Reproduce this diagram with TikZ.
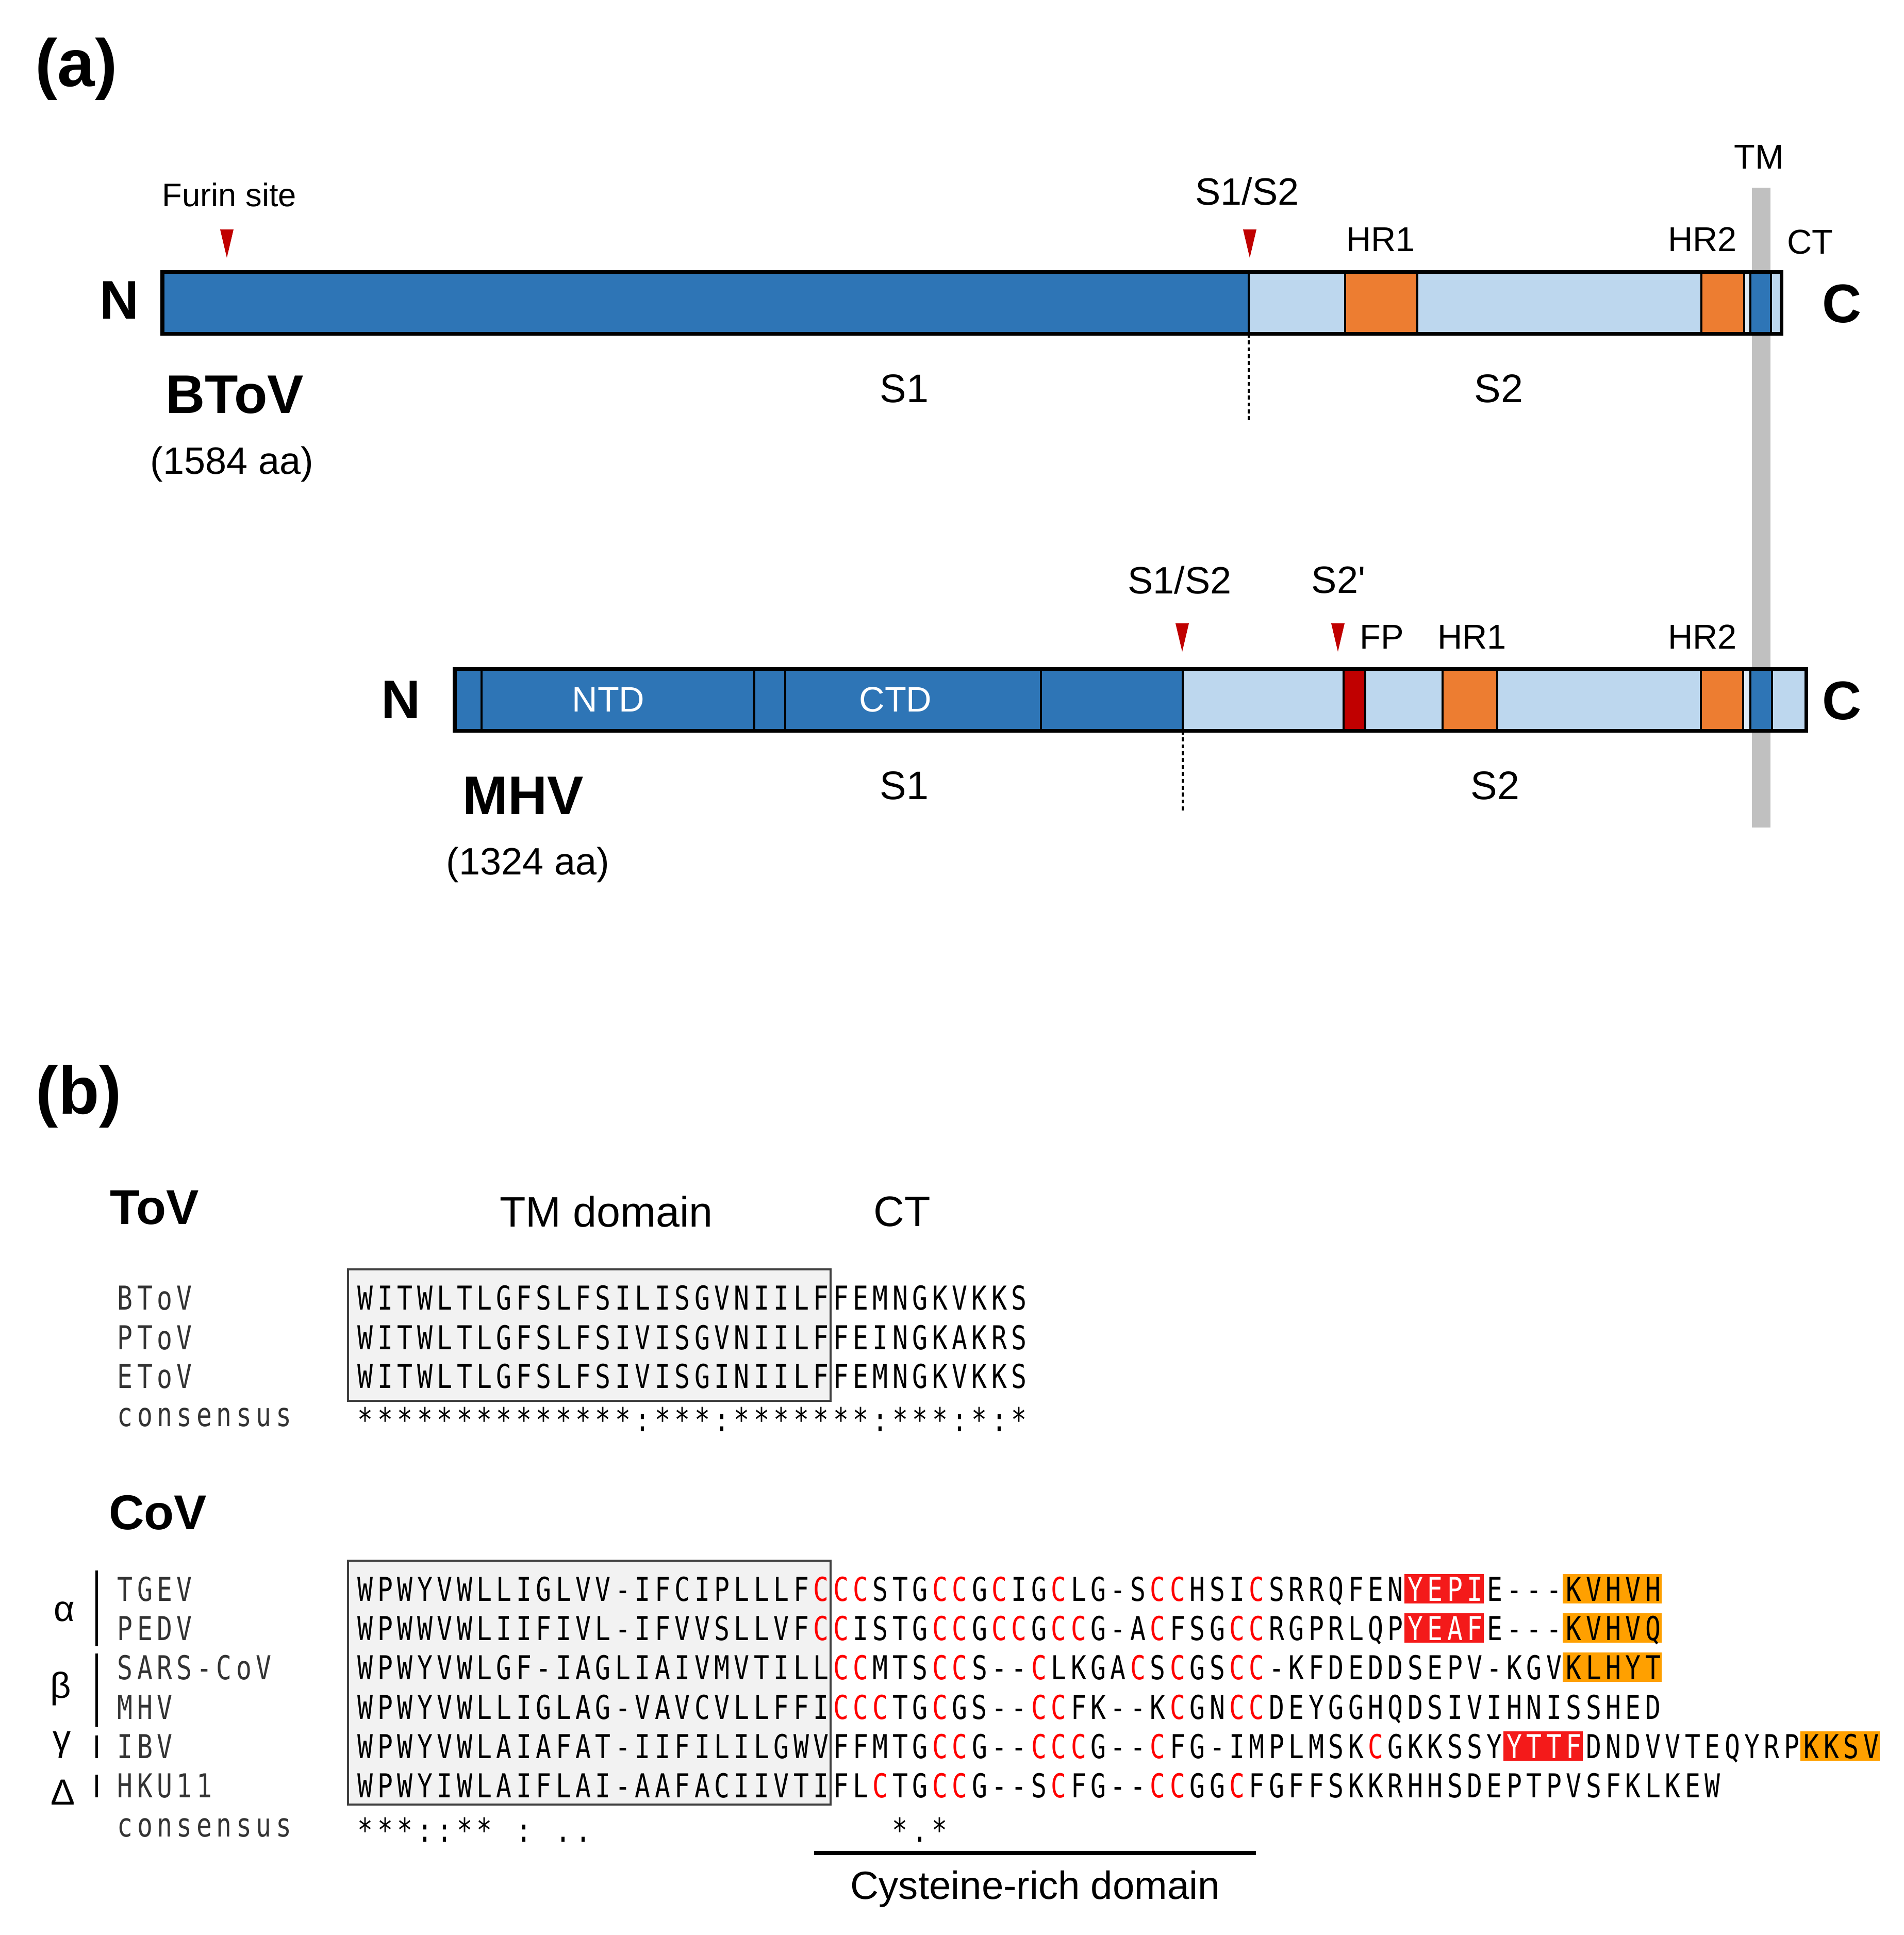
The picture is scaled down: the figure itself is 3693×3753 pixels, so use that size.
\documentclass[tikz,border=0pt]{standalone}
\usepackage{fontspec}
\setmainfont{Liberation Sans}
\newfontfamily\seqfont[Ligatures=TeXOff,FakeStretch=0.78]{DejaVu Sans Mono}
\newfontfamily\labfont[Ligatures=TeXOff,FakeStretch=0.78,LetterSpace=13.25]{DejaVu Sans Mono}
\definecolor{dblue}{HTML}{2E75B6}
\definecolor{lblue}{HTML}{BDD7EE}
\definecolor{orng}{HTML}{ED7D31}
\definecolor{fpred}{HTML}{C00000}
\definecolor{tmgray}{HTML}{C0C0C0}
\definecolor{seqred}{HTML}{FF0000}
\definecolor{hlred}{HTML}{F41A1A}
\definecolor{hlorg}{HTML}{FFA000}
\definecolor{boxfill}{HTML}{F2F2F2}
\definecolor{boxline}{HTML}{404040}
% fixed-pitch sequence typesetting: c = red C, other lowercase = white capital
\newlength\seqcw
\setlength\seqcw{0.384cm}
\makeatletter
\def\sq#1{\sq@a#1\relax}
\def\sq@a#1{\ifx\relax#1\else\sq@c{#1}\expandafter\sq@a\fi}
\def\sq@c#1{\makebox[\seqcw][c]{\sq@g{#1}}}
\def\sq@g#1{\if c#1\textcolor{seqred}{C}\else\ifnum`#1>96 \textcolor{white}{\uppercase{#1}}\else#1\fi\fi}
\makeatother
% highlight: colour, first col, last col, baseline
\newcommand{\hlcols}[4]{\fill[#1] ({689+(#2-1)*38.4},{#4-52}) rectangle ({689+#3*38.4},{#4+5});}
\begin{document}
\begin{tikzpicture}[x=0.01cm,y=-0.01cm,
  lab/.style={inner sep=0pt,font=\fontsize{19}{22}\selectfont},
  site/.style={inner sep=0pt,font=\fontsize{21}{24}\selectfont},
  dom/.style={inner sep=0pt,font=\fontsize{22}{26}\selectfont},
  term/.style={inner sep=0pt,font=\bfseries\fontsize{30}{34}\selectfont},
  vname/.style={inner sep=0pt,font=\bfseries\fontsize{30}{34}\selectfont},
  aalab/.style={inner sep=0pt,font=\fontsize{21}{24}\selectfont},
  panel/.style={inner sep=0pt,font=\bfseries\fontsize{37}{42}\selectfont},
  seq/.style={inner sep=0pt,anchor=base west,font=\seqfont\fontsize{18.15}{20}\selectfont},
  seqlab/.style={inner sep=0pt,anchor=base west,text=black!80,font=\labfont\fontsize{18.15}{20}\selectfont},
  tri/.style={fill=fpred},
  segline/.style={line width=0.9pt},
  barbox/.style={draw=black,line width=2pt},
  cut/.style={line width=0.9pt,dash pattern=on 2.2pt off 1.6pt},
  grp/.style={inner sep=0pt,font=\fontsize{20}{24}\selectfont},
  grpbar/.style={line width=0.05cm},
  hdr/.style={inner sep=0pt,font=\fontsize{23.5}{27}\selectfont},
  vhdr/.style={inner sep=0pt,font=\bfseries\fontsize{27}{31}\selectfont},
  tmbox/.style={fill=boxfill,draw=boxline,line width=1.1pt},
]
\useasboundingbox (0,0) rectangle (3693,3753);

% ================= panel (a) =================
\node[panel] (pa) at (148,134) {(a)};

% TM band
\fill[tmgray] (3398,364) rectangle (3434,1605);
\node[lab] (tmlab) at (3412,304) {TM};

% ---- BToV bar ----
\fill[dblue] (315,527) rectangle (2422,647);
\fill[lblue] (2422,527) rectangle (2609,647);
\fill[orng]  (2609,527) rectangle (2749,647);
\fill[lblue] (2749,527) rectangle (3300,647);
\fill[orng]  (3300,527) rectangle (3383,647);
\fill[lblue!50!white] (3383,527) rectangle (3395,647);
\fill[dblue] (3395,527) rectangle (3435,647);
\fill[lblue] (3435,527) rectangle (3455,647);
\foreach \xx in {2422,2609,2749,3300,3383,3395,3435}
  \draw[segline] (\xx,527) -- (\xx,647);
\draw[barbox] (315,527) rectangle (3455,647);
\coordinate (bcut1) at (2422,647);
\coordinate (bcut2) at (2422,819);
\draw[cut] (bcut1) -- (bcut2);

\node[term] (bN) at (232,582) {N};
\node[term] (bC) at (3573,589) {C};
\node[lab,font=\fontsize{18}{21}\selectfont] (furin) at (445,378) {Furin site};
\fill[tri] (427,445) -- (453,445) -- (440,500) -- cycle;
\node[site] (bs1s2) at (2419,371) {S1/S2};
\fill[tri] (2411,445) -- (2437,445) -- (2424,500) -- cycle;
\node[lab] (bhr1) at (2678,464) {HR1};
\node[lab] (bhr2) at (3302,464) {HR2};
\node[lab] (bct) at (3511,469) {CT};
\node[dom] (bS1) at (1754,754) {S1};
\node[dom] (bS2) at (2907,754) {S2};
\node[vname] (btov) at (455,766) {BToV};
\node[aalab] (btovaa) at (450,900) {(1584 aa)};

% ---- MHV bar ----
\fill[dblue] (882,1297) rectangle (2294,1417);
\fill[lblue] (2294,1297) rectangle (2606,1417);
\fill[fpred] (2606,1297) rectangle (2648,1417);
\fill[lblue] (2648,1297) rectangle (2798,1417);
\fill[orng]  (2798,1297) rectangle (2904,1417);
\fill[lblue] (2904,1297) rectangle (3299,1417);
\fill[orng]  (3299,1297) rectangle (3381,1417);
\fill[lblue!50!white] (3381,1297) rectangle (3395,1417);
\fill[dblue] (3395,1297) rectangle (3437,1417);
\fill[lblue] (3437,1297) rectangle (3503,1417);
\foreach \xx in {934,1463,1523,2019,2294,2606,2648,2798,2904,3299,3381,3395,3437}
  \draw[segline] (\xx,1297) -- (\xx,1417);
\draw[barbox] (882,1297) rectangle (3503,1417);
\coordinate (mcut1) at (2294,1417);
\coordinate (mcut2) at (2294,1572);
\draw[cut] (mcut1) -- (mcut2);

\node[term] (mN) at (778,1357) {N};
\node[term] (mC) at (3573,1359) {C};
\node[lab,text=white,font=\fontsize{19.5}{22}\selectfont] (ntd) at (1180,1357) {NTD};
\node[lab,text=white,font=\fontsize{19.5}{22}\selectfont] (ctd) at (1737,1357) {CTD};
\node[site] (ms1s2) at (2288,1125) {S1/S2};
\fill[tri] (2280,1209) -- (2306,1209) -- (2293,1264) -- cycle;
\node[site] (ms2p) at (2596,1125) {S2\textquotesingle};
\fill[tri] (2582,1209) -- (2608,1209) -- (2595,1264) -- cycle;
\node[lab] (mfp) at (2680,1235) {FP};
\node[lab] (mhr1) at (2855,1235) {HR1};
\node[lab] (mhr2) at (3302,1235) {HR2};
\node[dom] (mS1) at (1754,1524) {S1};
\node[dom] (mS2) at (2900,1524) {S2};
\node[vname] (mhv) at (1015,1543) {MHV};
\node[aalab] (mhvaa) at (1024,1677) {(1324 aa)};

% ================= panel (b) =================
\node[panel] (pb) at (153,2127) {(b)};
\node[vhdr] (tovh) at (300,2342) {ToV};
\node[hdr] (tmdom) at (1176,2350) {TM domain};
\node[hdr] (cth) at (1750,2350) {CT};

% ToV alignment
\draw[tmbox] (675,2462) rectangle (1611,2717);
\node[seqlab] (lbtov) at (227,2540) {BToV};
\node[seqlab] (lptov) at (227,2617) {PToV};
\node[seqlab] (letov) at (227,2692) {EToV};
\node[seqlab] (ltcons) at (227,2766) {consensus};
\node[seq] (sbtov) at (689,2540) {\sq{WITWLTLGFSLFSILISGVNIILFFEMNGKVKKS}};
\node[seq] (sptov) at (689,2617) {\sq{WITWLTLGFSLFSIVISGVNIILFFEINGKAKRS}};
\node[seq] (setov) at (689,2692) {\sq{WITWLTLGFSLFSIVISGINIILFFEMNGKVKKS}};
\node[seq] (stcons) at (689,2776) {\sq{**************:***:*******:***:*:*}};

% CoV
\node[vhdr] (covh) at (306,2934) {CoV};
\draw[tmbox] (675,3027) rectangle (1611,3500);

% highlights
\hlcols{hlred}{54}{57}{3105}
\hlcols{hlorg}{62}{66}{3105}
\hlcols{hlred}{54}{57}{3181}
\hlcols{hlorg}{62}{66}{3181}
\hlcols{hlorg}{62}{66}{3257}
\hlcols{hlred}{59}{62}{3410}
\hlcols{hlorg}{74}{77}{3410}

\node[seqlab] (ltgev) at (227,3105) {TGEV};
\node[seqlab] (lpedv) at (227,3181) {PEDV};
\node[seqlab] (lsars) at (227,3257) {SARS-CoV};
\node[seqlab] (lmhv) at (227,3334) {MHV};
\node[seqlab] (libv) at (227,3410) {IBV};
\node[seqlab] (lhku) at (227,3486) {HKU11};
\node[seqlab] (lccons) at (227,3562) {consensus};

\node[seq] (stgev) at (689,3105) {\sq{WPWYVWLLIGLVV-IFCIPLLLFcccSTGccGcIGcLG-SccHSIcSRRQFENyepiE---KVHVH}};
\node[seq] (spedv) at (689,3181) {\sq{WPWWVWLIIFIVL-IFVVSLLVFccISTGccGccGccG-AcFSGccRGPRLQPyeafE---KVHVQ}};
\node[seq] (ssars) at (689,3257) {\sq{WPWYVWLGF-IAGLIAIVMVTILLccMTSccS--cLKGAcScGScc-KFDEDDSEPV-KGVKLHYT}};
\node[seq] (smhv) at (689,3334) {\sq{WPWYVWLLIGLAG-VAVCVLLFFIcccTGcGS--ccFK--KcGNccDEYGGHQDSIVIHNISSHED}};
\node[seq] (sibv) at (689,3410) {\sq{WPWYVWLAIAFAT-IIFILILGWVFFMTGccG--cccG--cFG-IMPLMSKcGKKSSYyttfDNDVVTEQYRPKKSV}};
\node[seq] (shku) at (689,3486) {\sq{WPWYIWLAIFLAI-AAFACIIVTIFLcTGccG--ScFG--ccGGcFGFFSKKRHHSDEPTPVSFKLKEW}};

\node[seq] (cc1) at (689,3572) {\sq{***::**}};
\node[seq] (cc2) at (996.2,3572) {\sq{:}};
\node[seq] (cc3) at (1073,3572) {\sq{..}};
\node[seq] (cc4) at (1725.8,3572) {\sq{*.*}};

% groups
\node[grp] (galpha) at (125,3126) {α};
\node[grp] (gbeta) at (118,3275) {β};
\node[grp] (ggamma) at (120,3384) {γ};
\node[grp] (gdelta) at (122,3476) {Δ};
\draw[grpbar] (187,3046) -- (187,3193);
\draw[grpbar] (187,3207) -- (187,3349);
\draw[grpbar] (187,3366) -- (187,3410);
\draw[grpbar] (187,3442) -- (187,3486);

% cysteine-rich domain
\coordinate (cr1) at (1579,3594);
\coordinate (cr2) at (2436,3594);
\draw[line width=0.08cm] (cr1) -- (cr2);
\node[inner sep=0pt,font=\fontsize{21.7}{25}\selectfont] (crd) at (2008,3664) {Cysteine-rich domain};
\end{tikzpicture}
\end{document}
